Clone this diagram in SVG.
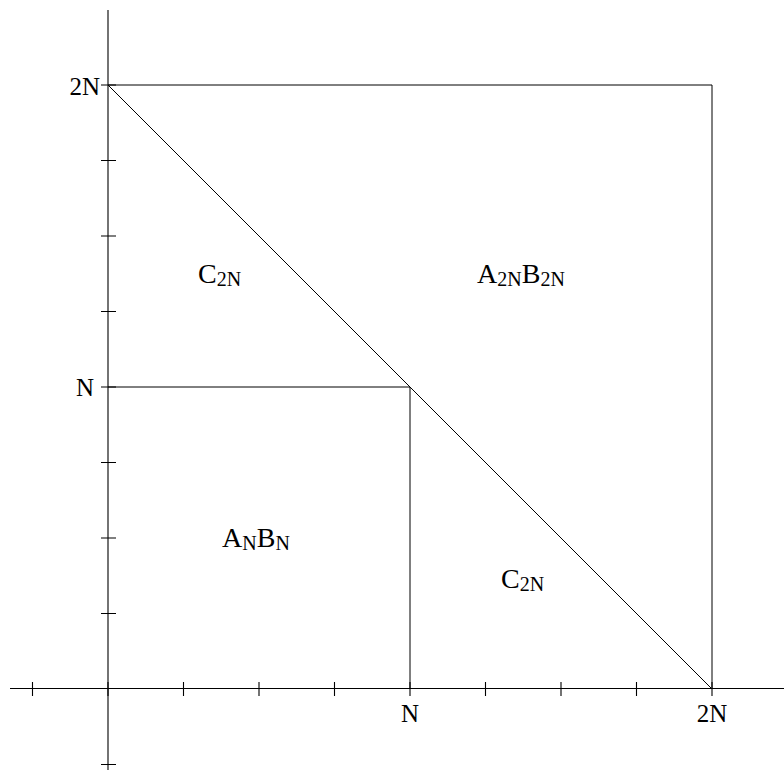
<svg xmlns="http://www.w3.org/2000/svg" width="784" height="782" viewBox="0 0 784 782">
<style>
.ln{stroke:#000;stroke-width:1;fill:none}
.ax{stroke:#000;stroke-width:1.1;fill:none}
text{font-family:"Liberation Serif","DejaVu Serif",serif;font-size:25px;fill:#000}
.rg{font-size:28px}
.sub{font-size:20px}
</style>
<rect width="784" height="782" fill="#fff"/>
<g id="axes">
<line class="ax" x1="10" y1="688.5" x2="784" y2="688.5"/>
<line class="ax" x1="108" y1="10" x2="108" y2="770"/>
<path class="ax" d="M32.5,682V696 M108,682V696 M183.5,682V696 M259,682V696 M334.5,682V696 M410,682V696 M485.5,682V696 M561,682V696 M636.5,682V696 M712,682V696"/>
<path class="ax" d="M101,764.5H116 M101,613.5H116 M101,538H116 M101,462.5H116 M101,387H116 M101,311.5H116 M101,236H116 M101,160.5H116 M101,85H116"/>
</g>
<g id="connectors">
<path class="ln" d="M108,85H712V689"/>
<line class="ln" x1="108" y1="85" x2="712" y2="689"/>
<path class="ln" d="M108,387H410V689"/>
</g>
<g id="axis-labels">
<text x="100" y="95" text-anchor="end">2N</text>
<text x="94" y="396" text-anchor="end">N</text>
<text x="410" y="722" text-anchor="middle">N</text>
<text x="712" y="722" text-anchor="middle">2N</text>
</g>
<g id="region-c2n-top"><text class="rg" x="198" y="283">C<tspan class="sub" dy="3">2N</tspan></text></g>
<g id="region-a2nb2n"><text class="rg" x="477" y="283">A<tspan class="sub" dy="3">2N</tspan><tspan dy="-3">B</tspan><tspan class="sub" dy="3">2N</tspan></text></g>
<g id="region-anbn"><text class="rg" x="222" y="547">A<tspan class="sub" dy="3">N</tspan><tspan dy="-3">B</tspan><tspan class="sub" dy="3">N</tspan></text></g>
<g id="region-c2n-bottom"><text class="rg" x="501" y="588">C<tspan class="sub" dy="3">2N</tspan></text></g>
</svg>
